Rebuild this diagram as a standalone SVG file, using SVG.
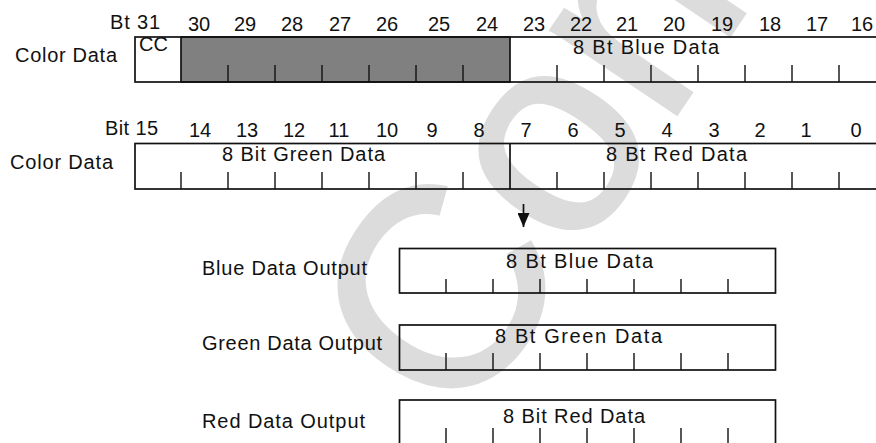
<svg xmlns="http://www.w3.org/2000/svg" width="876" height="443" viewBox="0 0 876 443">
<style>
text{font-family:"Liberation Sans",Arial,sans-serif;font-size:20px;fill:#111}
.num{text-anchor:middle}
.box{fill:none;stroke:#111;stroke-width:1.7}
.tk{stroke:#111;stroke-width:1.4}
.wm{font-size:285px;fill:#dcdcdc;stroke:#dcdcdc;stroke-width:4}
</style>
<defs>
<marker id="ah" markerUnits="userSpaceOnUse" viewBox="0 0 14 12" markerWidth="14" markerHeight="12" refX="14" refY="6" orient="auto"><path d="M0,0 L14,6 L0,12 z" fill="#111"/></marker>
</defs>
<rect width="876" height="443" fill="#fff"/>
<text class="wm" x="462" y="432" transform="rotate(-56 462 432)">Con</text>

<g id="row-hi">
<text x="15" y="62" textLength="102" lengthAdjust="spacing">Color Data</text>
<rect x="181" y="37" width="329" height="45" fill="#808080" stroke="#111" stroke-width="1.7"/>
<rect class="box" x="135" y="37" width="770" height="45"/>
<text x="139" y="51" textLength="29" lengthAdjust="spacing">CC</text>
<text x="573" y="54" textLength="146" lengthAdjust="spacing">8 Bt Blue Data</text>
<path class="tk" d="M228,65V82M275,65V82M322,65V82M369,65V82M416,65V82M463,65V82M557,65V82M604,65V82M651,65V82M698,65V82M745,65V82M792,65V82M839,65V82"/>
<text x="110" y="29" textLength="50" lengthAdjust="spacing">Bt 31</text>
<text class="num" x="199" y="31">30</text>
<text class="num" x="245" y="31">29</text>
<text class="num" x="292" y="31">28</text>
<text class="num" x="340" y="31">27</text>
<text class="num" x="387" y="31">26</text>
<text class="num" x="439" y="31">25</text>
<text class="num" x="487" y="31">24</text>
<text class="num" x="534" y="31">23</text>
<text class="num" x="581" y="31">22</text>
<text class="num" x="627" y="31">21</text>
<text class="num" x="674" y="31">20</text>
<text class="num" x="722" y="31">19</text>
<text class="num" x="770" y="31">18</text>
<text class="num" x="817" y="31">17</text>
<text class="num" x="862" y="31">16</text>
</g>

<g id="row-lo">
<text x="10" y="169" textLength="103" lengthAdjust="spacing">Color Data</text>
<rect class="box" x="135" y="143.5" width="770" height="45.5"/>
<path class="tk" d="M510,143.5V189" style="stroke-width:1.7"/>
<text x="222" y="161" textLength="163" lengthAdjust="spacing">8 Bit Green Data</text>
<text x="606" y="161" textLength="141" lengthAdjust="spacing">8 Bt Red Data</text>
<path class="tk" d="M181,172V189M228,172V189M275,172V189M322,172V189M369,172V189M416,172V189M463,172V189M557,172V189M604,172V189M651,172V189M698,172V189M745,172V189M792,172V189M839,172V189"/>
<text x="105" y="135" textLength="53" lengthAdjust="spacing">Bit 15</text>
<text class="num" x="200" y="137">14</text>
<text class="num" x="247" y="137">13</text>
<text class="num" x="294" y="137">12</text>
<text class="num" x="339" y="137">11</text>
<text class="num" x="387" y="137">10</text>
<text class="num" x="432" y="137">9</text>
<text class="num" x="479" y="137">8</text>
<text class="num" x="526" y="137">7</text>
<text class="num" x="573" y="137">6</text>
<text class="num" x="620" y="137">5</text>
<text class="num" x="667" y="137">4</text>
<text class="num" x="714" y="137">3</text>
<text class="num" x="760" y="137">2</text>
<text class="num" x="806" y="137">1</text>
<text class="num" x="856" y="137">0</text>
</g>

<g id="connectors">
<path d="M523.5,204V227" stroke="#111" stroke-width="1.7" fill="none" marker-end="url(#ah)"/>
</g>

<g id="blue-out">
<text x="202" y="275" textLength="165" lengthAdjust="spacing">Blue Data Output</text>
<rect class="box" x="399.5" y="248.5" width="376" height="44.5"/>
<text x="506" y="268" textLength="147" lengthAdjust="spacing">8 Bt Blue Data</text>
<path class="tk" d="M446,279V293M493,279V293M540,279V293M587,279V293M634,279V293M681,279V293M728,279V293"/>
</g>

<g id="green-out">
<text x="202" y="350" textLength="180" lengthAdjust="spacing">Green Data Output</text>
<rect class="box" x="399.5" y="325" width="376" height="45"/>
<text x="495" y="343" textLength="167" lengthAdjust="spacing">8 Bt Green Data</text>
<path class="tk" d="M446,353V370M493,353V370M540,353V370M587,353V370M634,353V370M681,353V370M728,353V370"/>
</g>

<g id="red-out">
<text x="202" y="428" textLength="163" lengthAdjust="spacing">Red Data Output</text>
<rect class="box" x="399.5" y="400" width="376" height="60"/>
<text x="503" y="423" textLength="142" lengthAdjust="spacing">8 Bit Red Data</text>
<path class="tk" d="M446,428V445M493,428V445M540,428V445M587,428V445M634,428V445M681,428V445M728,428V445"/>
</g>
</svg>
